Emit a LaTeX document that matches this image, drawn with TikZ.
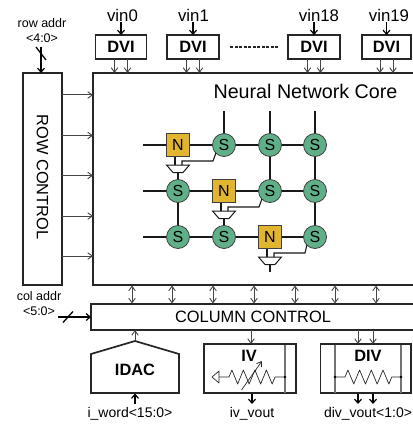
\documentclass[tikz,border=0pt]{standalone}
\usepackage{fontspec}
\setmainfont{Liberation Sans}
\usetikzlibrary{arrows.meta,calc}
\definecolor{nfill}{HTML}{E2B52F}
\definecolor{sfill}{HTML}{5FAF88}
\definecolor{thinc}{HTML}{444444}
\tikzset{
 blk/.style={draw=black!85,line width=1.7pt,inner sep=0pt,outer sep=0pt},
 fnt/.style={font=\fontsize{#1}{#1}\selectfont},
 bfnt/.style={font=\fontsize{#1}{#1}\selectfont\bfseries},
 lab/.style={inner sep=0pt,outer sep=0pt,fnt=12.5},
 sig/.style={inner sep=0pt,outer sep=0pt,fnt=14},
 vinl/.style={inner sep=0pt,outer sep=0pt,fnt=16.8},
 dvi/.style={blk,minimum height=24pt,bfnt=16.4},
 sn/.style={circle,draw=black!75,fill=sfill,line width=.8pt,minimum size=23pt,inner sep=0pt,outer sep=0pt,fnt=16},
 nn/.style={rectangle,draw=black!75,fill=nfill,line width=.8pt,minimum size=22.5pt,inner sep=0pt,outer sep=0pt,fnt=16},
 wire/.style={draw=black!90,line width=1.1pt},
 thin arrow/.style={-{Straight Barb[length=4.5pt,width=6.5pt,line width=.9pt]},draw=thinc,line width=.8pt},
 both arrow/.style={{Straight Barb[length=4.5pt,width=6.5pt,line width=.9pt]}-{Straight Barb[length=4.5pt,width=6.5pt,line width=.9pt]},draw=thinc,line width=.8pt},
 thick arrow/.style={-{Straight Barb[length=4pt,width=7pt,line width=1.2pt]},draw=black,line width=1.6pt},
 bar/.style={draw=black!55,line width=1.3pt},
 res/.style={draw=black!85,line width=.7pt,line join=round},
}
\begin{document}
\begin{tikzpicture}[x=1pt,y=-1pt]
\useasboundingbox (0,0) rectangle (412,425);
% main blocks
\node[blk,minimum width=39pt,minimum height=212pt] (row) at (42.5,179) {};
\node[rotate=-90,inner sep=0pt,fnt=16.4] (rowt) at (42.5,177) {ROW CONTROL};
\node[blk,minimum width=322pt,minimum height=212pt] (core) at (254,179) {};
\node[inner sep=0pt,fnt=19.7] (coret) at (305.5,91) {Neural Network Core};
\node[blk,minimum width=324pt,minimum height=26pt,fnt=16.4] (col) at (253,317) {COLUMN CONTROL};
% DVI
\node[dvi,minimum width=51pt] (d0) at (121,47) {DVI};
\node[dvi,minimum width=52pt] (d1) at (193,47) {DVI};
\node[dvi,minimum width=52pt] (d2) at (314,47) {DVI};
\node[dvi,minimum width=49.5pt] (d3) at (386.5,47) {DVI};
\node[vinl] (v0) at (122.5,15) {vin0};
\node[vinl] (v1) at (193.5,15) {vin1};
\node[vinl] (v2) at (319,15) {vin18};
\node[vinl] (v3) at (389,15) {vin19};
\foreach \i in {0,1,2,3}{
  \draw[thick arrow] ($(d\i.north)+(0,-13)$) -- (d\i.north);
  \draw[thin arrow] ($(d\i.south)+(-6.5,0)$) -- ($(d\i.south)+(-6.5,14)$);
  \draw[thin arrow] ($(d\i.south)+(6.5,0)$) -- ($(d\i.south)+(6.5,14)$);
}
\coordinate (dl) at (230,47); \coordinate (dr) at (278,47);
\draw[black!85,line width=1.2pt,dash pattern=on 3pt off 1.5pt] (dl) -- (dr);
% row addr
\node[lab] (ra1) at (42,23) {row addr};
\node[lab] (ra2) at (42,38) {<4:0>};
\coordinate (ras) at (41,47);
\draw[thick arrow] (ras) -- (ras |- row.north);
\coordinate (rs1) at (36,47); \coordinate (rs2) at (46,60);
\draw[black,line width=1.3pt] (rs1) -- (rs2);
% row arrows
\foreach \y in {95,135.5,175.5,216,256}{
  \draw[thin arrow,line width=1pt] (row.east |- 0,\y) -- (core.west |- 0,\y);
}
% col addr
\node[lab] (ca1) at (39,296) {col addr};
\node[lab] (ca2) at (39,311) {<5:0>};
\coordinate (cas) at (58,317);
\draw[thick arrow] (cas) -- (col.west |- cas);
\coordinate (cs1) at (63,322.5); \coordinate (cs2) at (73,311.5);
\draw[black,line width=1.3pt] (cs1) -- (cs2);
% col arrows
\foreach \x in {132,172,213,254,295,335,376}{
  \draw[both arrow] (\x,285.5) -- (\x,303.5);
}
% IDAC
\draw[blk,line join=miter] (91,354) -- (135,341) coordinate (apex) -- (179,354) -- (179,393) -- (91,393) -- cycle;
\node[inner sep=0pt,bfnt=16.4] (idac) at (135,370) {IDAC};
\draw[thin arrow] (apex) -- (apex |- col.south);
\coordinate (iwa) at (135,404);
\draw[thick arrow] (iwa) -- (135,393.5);
\node[sig] (iw) at (130,414) {i\_word<15:0>};
% IV
\node[blk,minimum width=92pt,minimum height=49pt] (iv) at (250,368.5) {};
\node[inner sep=0pt,bfnt=16.4] (ivt) at (249,356) {IV};
\draw[bar] (285,344.5) -- (285,392.5);
\draw[thin arrow] (251,330) -- (251,344);
\draw[thick arrow] (252,393.5) -- (252,404);
\node[sig] (ivo) at (252,414) {iv\_vout};
\draw[res] (212,377) -- (219,371) -- (219,383) -- cycle;
\draw[res] (219,377) -- (229,377) -- ++(2.9,-7) -- ++(5.75,14) -- ++(5.75,-14) -- ++(5.75,14) -- ++(5.75,-14) -- ++(5.75,14) -- ++(5.75,-14) -- ++(5.75,14) -- ++(2.9,-7) -- (285,377);
\fill (285,377) circle (1.3pt);
\draw[res,-{Straight Barb[length=4.5pt,width=6pt,line width=.8pt]}] (241.5,390) -- (262,361);
% DIV
\node[blk,minimum width=90.5pt,minimum height=49pt,anchor=west] (div) at (320.5,368.5) {};
\node[inner sep=0pt,bfnt=16.4] (divt) at (368,356) {DIV};
\draw[bar] (335,344.5) -- (335,392.5);
\draw[bar] (401,344.5) -- (401,392.5);
\draw[thin arrow] (358,330) -- (358,344);
\draw[thin arrow] (373,330) -- (373,344);
\draw[thick arrow] (358,393.5) -- (358,404);
\draw[thick arrow] (373,393.5) -- (373,404);
\node[sig] (divo) at (368,414) {div\_vout<1:0>};
\draw[res] (335,377) -- (345,377) -- ++(2.9,-7) -- ++(5.85,14) -- ++(5.85,-14) -- ++(5.85,14) -- ++(5.85,-14) -- ++(5.85,14) -- ++(5.85,-14) -- ++(5.85,14) -- ++(2.9,-7) -- (401,377);
\fill (335,377) circle (1.3pt);
\fill (401,377) circle (1.3pt);
% grid nodes
\coordinate (l1) at (143,145); \coordinate (l2) at (143,191); \coordinate (l3) at (143,237);
\coordinate (t1) at (224,111); \coordinate (t2) at (270,111); \coordinate (t3) at (315,111);
\coordinate (bot) at (270,272);
% wires behind nodes
\begin{scope}[wire]
\draw (l1) -- (315,145);
\draw (l2) -- (315,191);
\draw (l3) -- (315,237);
\draw (t1) -- (224,145);
\draw (t2) -- (270,191);
\draw (t3) -- (315,237);
\draw (178,172) -- (178,237);
\draw (224,218) -- (224,237);
\draw (270,264) -- (bot);
\end{scope}
\foreach \n/\x/\y in {a1/224/145,a2/270/145,a3/315/145,b0/178/191,b2/270/191,b3/315/191,c0/178/237,c1/224/237,c3/315/237}{
  \node[sn] (\n) at (\x,\y) {S};
}
\node[nn] (n1) at (178,145) {N};
\node[nn] (n2) at (224,191) {N};
\node[nn] (n3) at (270,237) {N};
% muxes
\foreach \nd/\sw/\mx/\my in {n1/a1/178/165,n2/b2/224/211,n3/c3/270/257}{
  \draw[wire,fill=white,line width=1pt] (\mx-11.5,\my) -- (\mx+11.5,\my) -- (\mx+5,\my+7.5) -- (\mx-5,\my+7.5) -- cycle;
  \draw[wire] (\mx-3,\my) -- (\mx-3,\my-8);
  \draw[wire] (\mx+4,\my) -- (\mx+4,\my-4) -- (\mx+35,\my-4) -- (\sw.225);
}
\end{tikzpicture}
\end{document}
